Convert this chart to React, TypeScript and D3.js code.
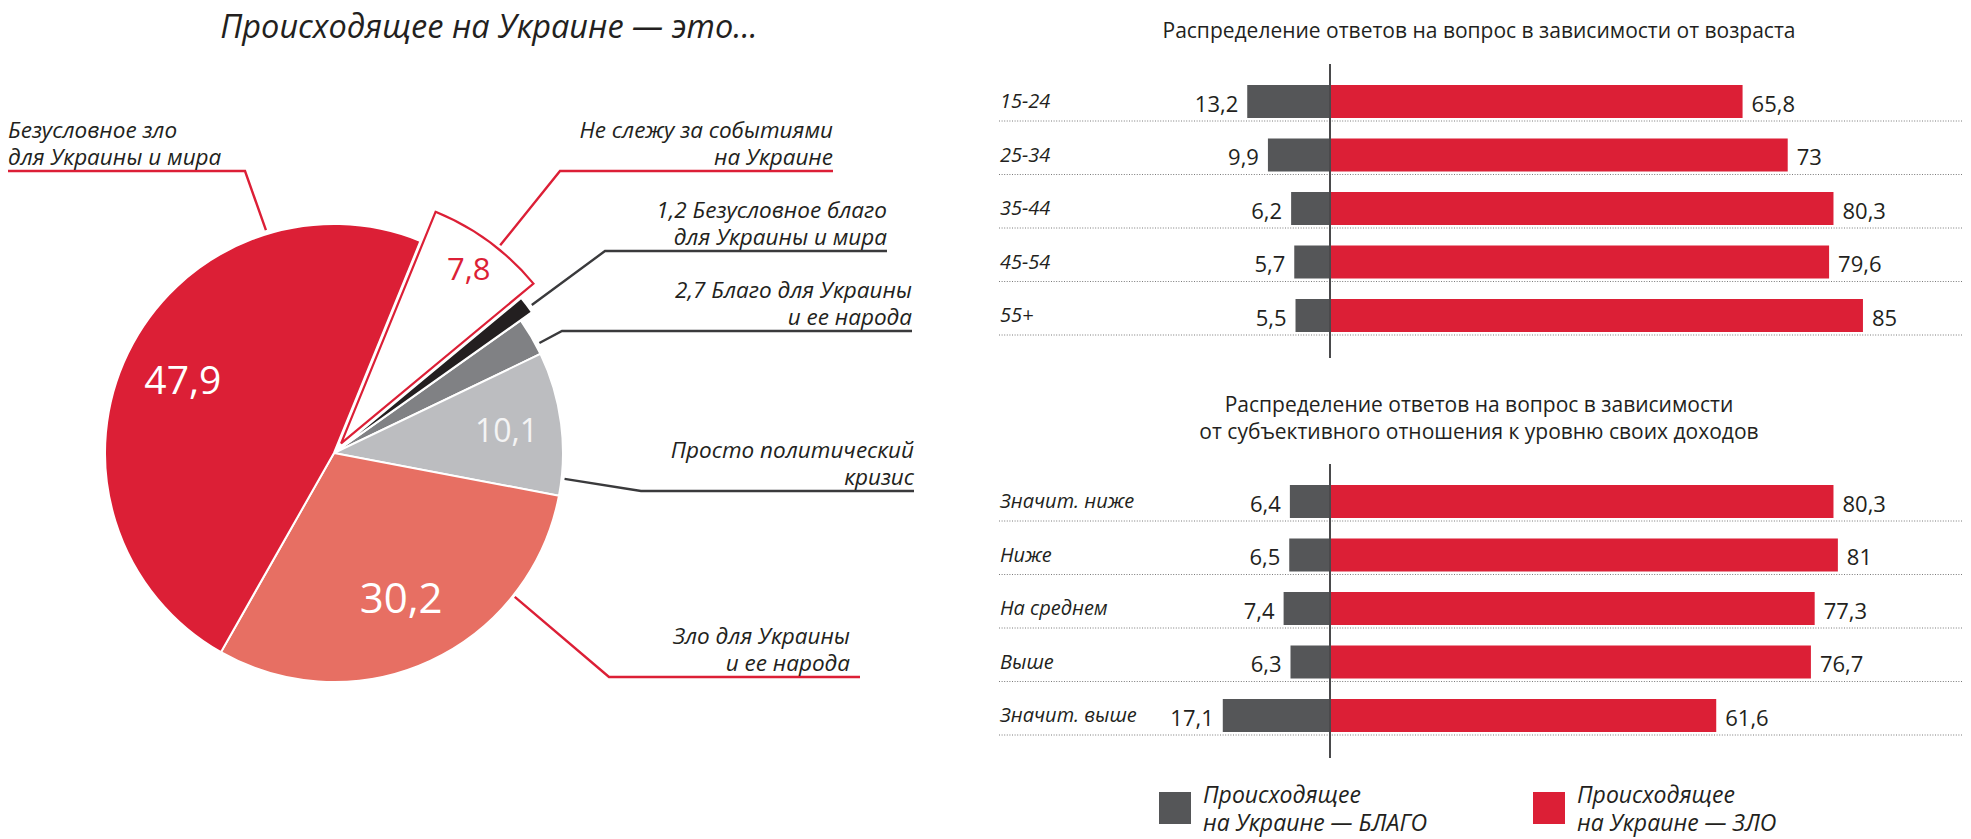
import React from 'react';
import * as d3 from 'd3';

// ---------- DATA ----------
const pieCategories = [
  'Не слежу за событиями на Украине',
  'Безусловное благо для Украины и мира',
  'Благо для Украины и ее народа',
  'Просто политический кризис',
  'Зло для Украины и ее народа',
  'Безусловное зло для Украины и мира',
];
const pieValues = [7.8, 1.2, 2.7, 10.1, 30.2, 47.9];

const ageCategories = ['15-24', '25-34', '35-44', '45-54', '55+'];
const ageGood = [13.2, 9.9, 6.2, 5.7, 5.5];
const ageEvil = [65.8, 73, 80.3, 79.6, 85];

const incomeCategories = ['Значит. ниже', 'Ниже', 'На среднем', 'Выше', 'Значит. выше'];
const incomeGood = [6.4, 6.5, 7.4, 6.3, 17.1];
const incomeEvil = [80.3, 81, 77.3, 76.7, 61.6];

const pieTitle = 'Происходящее на Украине — это...';
const ageTitle = ['Распределение ответов на вопрос в зависимости от возраста'];
const incomeTitle = [
  'Распределение ответов на вопрос в зависимости',
  'от субъективного отношения к уровню своих доходов',
];
const legendLabels = [
  ['Происходящее', 'на Украине — БЛАГО'],
  ['Происходящее', 'на Украине — ЗЛО'],
];

// ---------- STYLE ----------
const FONT = "'Open Sans', sans-serif";
const RED = '#dc1f36';
const DARK = '#231f20';
const BAR_GRAY = '#555658';
const LEADER_DARK = '#3a3a3c';
const sliceFill = ['#ffffff', '#231f20', '#808184', '#bcbdc0', '#e76f63', RED];
const sliceStroke = [RED, '#ffffff', '#ffffff', '#ffffff', '#ffffff', '#ffffff'];
const sliceExplode = [12, 6, 0, 0, 0, 0];
const sliceRadius = [250, 237, 229, 229, 229, 229];
const LABEL_SIZE = 22.5;

const fmt = (v: number) => String(v).replace('.', ',');

// pie label layout (annotation positions)
const pieLabelLayout = [
  { lines: ['Не слежу за событиями', 'на Украине'], anchor: 'end', tx: 833, uy: 171, ux1: 560, ux2: 833, frac: 0.59, r: 254, color: RED, prefix: false },
  { lines: ['Безусловное благо', 'для Украины и мира'], anchor: 'end', tx: 887, uy: 251, ux1: 605, ux2: 887, frac: 0.67, r: 247, color: LEADER_DARK, prefix: true },
  { lines: ['Благо для Украины', 'и ее народа'], anchor: 'end', tx: 912, uy: 331, ux1: 562, ux2: 912, frac: 0.74, r: 233, color: LEADER_DARK, prefix: true },
  { lines: ['Просто политический', 'кризис'], anchor: 'end', tx: 914, uy: 491, ux1: 641, ux2: 914, frac: 0.88, r: 232, color: LEADER_DARK, prefix: false },
  { lines: ['Зло для Украины', 'и ее народа'], anchor: 'end', tx: 850, uy: 677, ux1: 609, ux2: 860, frac: 0.255, r: 231, color: RED, prefix: false },
  { lines: ['Безусловное зло', 'для Украины и мира'], anchor: 'start', tx: 8, uy: 171, ux1: 245, ux2: 8, frac: 0.773, r: 233, color: RED, prefix: false },
];
const pieValueLayout = [
  { show: true, r: 216, size: 31, color: RED },
  { show: false, r: 0, size: 0, color: '' },
  { show: false, r: 0, size: 0, color: '' },
  { show: true, r: 174, size: 32, color: '#f4f4f4' },
  { show: true, r: 160, size: 42, color: '#ffffff' },
  { show: true, r: 168, size: 39, color: '#ffffff' },
];

function Pie() {
  const cx = 334, cy = 453;
  const start = (22.2 * Math.PI) / 180;
  const pie = d3.pie<number>().sort(null).value((d) => d).startAngle(start).endAngle(start + 2 * Math.PI);
  const arcs = pie(pieValues);
  const order = [2, 3, 4, 5, 1, 0];
  const polar = (a: number, r: number) => [Math.sin(a) * r, -Math.cos(a) * r];

  return (
    <g>
      <text x={489} y={38} textAnchor="middle" fontFamily={FONT} fontStyle="italic" fontSize={32.5} fill={DARK}>
        {pieTitle}
      </text>
      {order.map((i) => {
        const a = arcs[i];
        const mid = (a.startAngle + a.endAngle) / 2;
        const [ox, oy] = polar(mid, sliceExplode[i]);
        const path = d3.arc<any>().innerRadius(0).outerRadius(sliceRadius[i])(a) as string;
        return (
          <path
            key={i}
            d={path}
            transform={`translate(${cx + ox},${cy + oy})`}
            fill={sliceFill[i]}
            stroke={sliceStroke[i]}
            strokeWidth={i === 0 ? 2.2 : 2}
            strokeLinejoin="miter"
          />
        );
      })}
      {arcs.map((a, i) => {
        const L = pieValueLayout[i];
        if (!L.show) return null;
        const mid = (a.startAngle + a.endAngle) / 2;
        const [ox, oy] = polar(mid, sliceExplode[i]);
        const [px, py] = polar(mid, L.r);
        return (
          <text
            key={'v' + i}
            x={cx + ox + px}
            y={cy + oy + py + L.size * 0.36}
            textAnchor="middle"
            fontFamily={FONT}
            fontSize={L.size}
            fill={L.color}
          >
            {fmt(pieValues[i])}
          </text>
        );
      })}
      {arcs.map((a, i) => {
        const L = pieLabelLayout[i];
        const ang = a.startAngle + (a.endAngle - a.startAngle) * L.frac;
        const [ox, oy] = polar((a.startAngle + a.endAngle) / 2, sliceExplode[i]);
        const [px, py] = polar(ang, L.r);
        const ex = cx + (i === 0 ? ox : 0) + px;
        const ey = cy + (i === 0 ? oy : 0) + py;
        const line1 = L.prefix ? `${fmt(pieValues[i])} ${L.lines[0]}` : L.lines[0];
        return (
          <g key={'l' + i}>
            <polyline
              points={`${L.ux2},${L.uy} ${L.ux1},${L.uy} ${ex},${ey}`}
              fill="none"
              stroke={L.color}
              strokeWidth={2.4}
            />
            <text x={L.tx} y={L.uy - 33} textAnchor={L.anchor as any} fontFamily={FONT} fontStyle="italic" fontSize={LABEL_SIZE} fill={DARK}>
              {line1}
            </text>
            <text x={L.tx} y={L.uy - 6} textAnchor={L.anchor as any} fontFamily={FONT} fontStyle="italic" fontSize={LABEL_SIZE} fill={DARK}>
              {L.lines[1]}
            </text>
          </g>
        );
      })}
    </g>
  );
}

function BarPanel(props: {
  categories: string[];
  good: number[];
  evil: number[];
  title: string[];
  titleY: number;
  firstCenter: number;
  axisTop: number;
  axisBottom: number;
}) {
  const { categories, good, evil, title, titleY, firstCenter, axisTop, axisBottom } = props;
  const axisX = 1330;
  const step = 53.5;
  const x = d3.scaleLinear().domain([0, 100]).range([0, 627]);
  const y = d3
    .scalePoint<string>()
    .domain(categories)
    .range([firstCenter, firstCenter + step * (categories.length - 1)]);
  const barH = 33;
  return (
    <g>
      {title.map((t, i) => (
        <text key={i} x={1479} y={titleY + i * 27} textAnchor="middle" fontFamily={FONT} fontSize={21} fill={DARK}>
          {t}
        </text>
      ))}
      {categories.map((c, i) => {
        const cy = y(c) as number;
        return (
          <g key={c}>
            <line x1={999} x2={1962} y1={cy + 19.5} y2={cy + 19.5} stroke="#7a7a7a" strokeWidth={1} strokeDasharray="1 1.6" />
            <rect x={axisX - x(good[i])} y={cy - barH / 2} width={x(good[i])} height={barH} fill={BAR_GRAY} />
            <rect x={axisX} y={cy - barH / 2} width={x(evil[i])} height={barH} fill={RED} />
            <text x={1000} y={cy + 6.5} fontFamily={FONT} fontStyle="italic" fontSize={20} fill={DARK}>
              {c}
            </text>
            <text x={axisX - x(good[i]) - 9} y={cy + 10} textAnchor="end" fontFamily={FONT} fontSize={22} fill={DARK}>
              {fmt(good[i])}
            </text>
            <text x={axisX + x(evil[i]) + 9} y={cy + 10} textAnchor="start" fontFamily={FONT} fontSize={22} fill={DARK}>
              {fmt(evil[i])}
            </text>
          </g>
        );
      })}
      <line x1={axisX} x2={axisX} y1={axisTop} y2={axisBottom} stroke="#4a4a4c" strokeWidth={2} />
    </g>
  );
}

function Legend() {
  const items = [
    { x: 1159, color: BAR_GRAY, lines: legendLabels[0] },
    { x: 1533, color: RED, lines: legendLabels[1] },
  ];
  return (
    <g>
      {items.map((it, i) => (
        <g key={i}>
          <rect x={it.x} y={792} width={32} height={32} fill={it.color} />
          <text x={it.x + 44} y={803} fontFamily={FONT} fontStyle="italic" fontSize={23} fill={DARK}>
            {it.lines[0]}
          </text>
          <text x={it.x + 44} y={831} fontFamily={FONT} fontStyle="italic" fontSize={23} fill={DARK}>
            {it.lines[1]}
          </text>
        </g>
      ))}
    </g>
  );
}

export default function App() {
  return (
    <svg
      width={1971}
      height={839}
      viewBox="0 0 1971 839"
      style={{ position: 'absolute', left: 0, top: 0, background: '#ffffff' }}
    >
      <rect x={0} y={0} width={1971} height={839} fill="#ffffff" />
      <Pie />
      <BarPanel
        categories={ageCategories}
        good={ageGood}
        evil={ageEvil}
        title={ageTitle}
        titleY={38}
        firstCenter={101.5}
        axisTop={64}
        axisBottom={358}
      />
      <BarPanel
        categories={incomeCategories}
        good={incomeGood}
        evil={incomeEvil}
        title={incomeTitle}
        titleY={412}
        firstCenter={501.5}
        axisTop={464}
        axisBottom={758}
      />
      <Legend />
    </svg>
  );
}
